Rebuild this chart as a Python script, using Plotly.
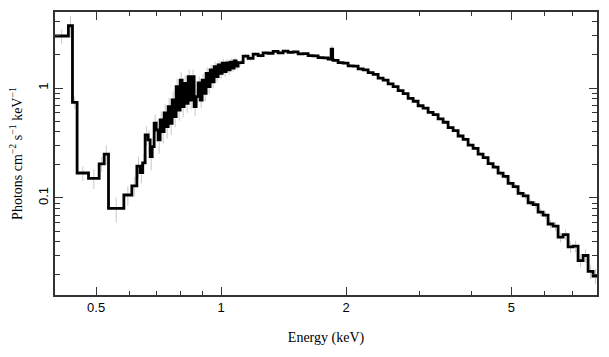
import numpy as np
import plotly.graph_objects as go

# Unfolded X-ray spectrum (bin lower edges in keV, flux in photons cm^-2 s^-1 keV^-1)
edges_soft = [0.398, 0.4287, 0.4385, 0.4499, 0.4793, 0.5084, 0.5228, 0.5355, 0.5831,
              0.6095, 0.6267, 0.6382, 0.6472, 0.6561, 0.6671, 0.6746, 0.6821, 0.6897]
flux_soft = [2.97, 3.68, 0.741, 0.1687, 0.151, 0.204, 0.250, 0.0805, 0.1065,
             0.129, 0.195, 0.170, 0.209, 0.374, 0.337, 0.238, 0.293, 0.478]
err_soft = [0.15, 0.22, 0.13, 0.15, 0.2, 0.15, 0.2, 0.25, 0.2,
            0.2, 0.22, 0.2, 0.2, 0.2, 0.22, 0.25, 0.22, 0.2]

edges_mid = [0.6974, 0.7052, 0.7130, 0.7210, 0.7290, 0.7372, 0.7454, 0.7537, 0.7621,
             0.7706, 0.7792, 0.7879, 0.7967, 0.8055, 0.8145, 0.8236, 0.8328, 0.8421,
             0.8514, 0.8609, 0.8705, 0.8802, 0.8901, 0.9000, 0.9100, 0.9202, 0.9304,
             0.9408, 0.9513, 0.9619, 0.9727, 0.9835, 0.9945, 1.0056, 1.0168, 1.0281,
             1.0396, 1.0512, 1.0629, 1.0747, 1.0867]
flux_mid = [0.415, 0.337, 0.512, 0.401, 0.593, 0.445, 0.676, 0.478, 0.778,
            0.549, 1.03, 0.631, 1.18, 0.676, 1.10, 0.726, 1.27, 0.778,
            1.27, 0.676, 0.834, 1.11, 0.778, 1.18, 0.895, 1.36, 1.03,
            1.46, 1.14, 1.56, 1.27, 1.62, 1.36, 1.68, 1.41, 1.69,
            1.46, 1.72, 1.52, 1.76, 1.58]
err_mid = [0.22, 0.25, 0.2, 0.22, 0.2, 0.22, 0.2, 0.22, 0.2,
           0.2, 0.18, 0.2, 0.18, 0.2, 0.18, 0.18, 0.16, 0.18,
           0.16, 0.18, 0.16, 0.15, 0.16, 0.14, 0.15, 0.13, 0.14,
           0.12, 0.13, 0.11, 0.12, 0.1, 0.11, 0.1, 0.1, 0.09,
           0.09, 0.08, 0.08, 0.07, 0.07]

edges_hard = [1.0988, 1.1297, 1.1614, 1.1940, 1.2276, 1.2621, 1.2976, 1.3341, 1.3716,
              1.4102, 1.4498, 1.4906, 1.5325, 1.5756, 1.6199, 1.6654, 1.7122, 1.7603,
              1.8098, 1.8406, 1.8560, 1.8607, 1.9130, 1.9668, 2.0221, 2.0790, 2.1374,
              2.1975, 2.2593, 2.3228, 2.3881, 2.4552, 2.5242, 2.5952, 2.6682, 2.7432,
              2.8203, 2.8996, 2.9811, 3.0649, 3.1511, 3.2397, 3.3308, 3.4244, 3.5207,
              3.6197, 3.7214, 3.8260, 3.9336, 4.0442, 4.1579, 4.2748, 4.3950, 4.5185,
              4.6456, 4.7762, 4.9104, 5.0485, 5.1904, 5.3364, 5.4864, 5.6406, 5.7992,
              5.9622, 6.1298, 6.3022, 6.4794, 6.6615, 6.8488, 7.0413, 7.2393, 7.4428,
              7.6520, 7.8671]
flux_hard = [1.70, 1.95, 1.86, 2.03, 1.97, 2.09, 2.07, 2.15, 2.09,
             2.16, 2.11, 2.13, 2.04, 2.05, 1.97, 1.96, 1.89, 1.88,
             1.83, 2.26, 1.81, 1.78, 1.70, 1.68, 1.59, 1.58, 1.49,
             1.46, 1.38, 1.33, 1.23, 1.18, 1.09, 1.03, 0.945, 0.89,
             0.805, 0.758, 0.69, 0.655, 0.60, 0.572, 0.524, 0.488, 0.437,
             0.410, 0.366, 0.341, 0.303, 0.283, 0.250, 0.233, 0.205, 0.191,
             0.168, 0.157, 0.136, 0.127, 0.110, 0.1045, 0.0905, 0.0870, 0.0745,
             0.0700, 0.0580, 0.0555, 0.0440, 0.0465, 0.0360, 0.0365, 0.0270, 0.0300,
             0.0215, 0.0195]
err_hard = [0.06, 0.05, 0.05, 0.04, 0.04, 0.04, 0.03, 0.03, 0.03,
            0.03, 0.03, 0.03, 0.03, 0.03, 0.03, 0.03, 0.03, 0.03,
            0.03, 0.08, 0.03, 0.03, 0.03, 0.03, 0.03, 0.03, 0.03,
            0.03, 0.03, 0.03, 0.03, 0.03, 0.03, 0.03, 0.03, 0.03,
            0.03, 0.03, 0.03, 0.03, 0.03, 0.03, 0.03, 0.03, 0.03,
            0.03, 0.04, 0.04, 0.04, 0.04, 0.04, 0.04, 0.04, 0.05,
            0.05, 0.06, 0.06, 0.06, 0.06, 0.07, 0.07, 0.08, 0.08,
            0.08, 0.09, 0.1, 0.1, 0.11, 0.12, 0.12, 0.13, 0.14,
            0.15, 0.16]
last_edge = 8.0883

x_ticks = [0.5, 1, 2, 5]
x_minor = [0.6, 0.7, 0.8, 0.9, 3, 4, 6, 7, 8]
y_ticks = [0.1, 1]
y_minor = [0.02, 0.03, 0.04, 0.05, 0.06, 0.07, 0.08, 0.09,
           0.2, 0.3, 0.4, 0.5, 0.6, 0.7, 0.8, 0.9, 2, 3, 4]

lo = np.array(edges_soft + edges_mid + edges_hard)
hi = np.append(lo[1:], last_edge)
flux = np.array(flux_soft + flux_mid + flux_hard)
rel = np.array(err_soft + err_mid + err_hard)
cen = np.sqrt(lo * hi)

fig = go.Figure()
fig.add_trace(go.Scatter(
    x=cen, y=flux, mode="markers",
    marker=dict(size=1, color="#c8c8c8"),
    error_y=dict(type="data", array=flux * rel, arrayminus=flux * rel,
                 width=0, thickness=1, color="#c8c8c8"),
    showlegend=False, hoverinfo="skip"))
fig.add_trace(go.Scatter(
    x=np.append(lo, last_edge), y=np.append(flux, flux[-1]),
    mode="lines", line=dict(color="black", width=2.8, shape="hv"),
    showlegend=False))

axis_common = dict(
    type="log", showgrid=False, zeroline=False, automargin=False,
    showline=True, linecolor="#333333", linewidth=1.5, mirror="ticks",
    ticks="inside", ticklen=8, tickwidth=1.3, tickcolor="#333333",
    tickfont=dict(family="Liberation Sans", size=13, color="black"),
)

fig.update_layout(
    width=609, height=357,
    margin=dict(l=55, r=12, t=12, b=62),
    paper_bgcolor="white", plot_bgcolor="white",
    xaxis=dict(
        **axis_common,
        range=[np.log10(0.398), np.log10(8.04)],
        tickmode="array", tickvals=x_ticks, ticktext=["0.5", "1", "2", "5"],
        minor=dict(tickmode="array", tickvals=x_minor, ticks="inside", ticklen=4,
                   tickwidth=1.3, tickcolor="#333333"),
        title=dict(text="Energy (keV)", standoff=18,
                   font=dict(family="Liberation Serif", size=14, color="black")),
    ),
    yaxis=dict(
        **axis_common,
        range=[-1.882, 0.691],
        tickmode="array", tickvals=y_ticks, ticktext=["0.1", "1"],
        tickangle=-90,
        minor=dict(tickmode="array", tickvals=y_minor, ticks="inside", ticklen=5,
                   tickwidth=1.3, tickcolor="#333333"),
        title=dict(text="Photons cm<sup>−2</sup> s<sup>−1</sup> keV<sup>−1</sup>",
                   standoff=10,
                   font=dict(family="Liberation Serif", size=14, color="black")),
    ),
)

fig.write_html("out.html", config={"displayModeBar": False},
               post_script="document.body.style.margin='0';")
